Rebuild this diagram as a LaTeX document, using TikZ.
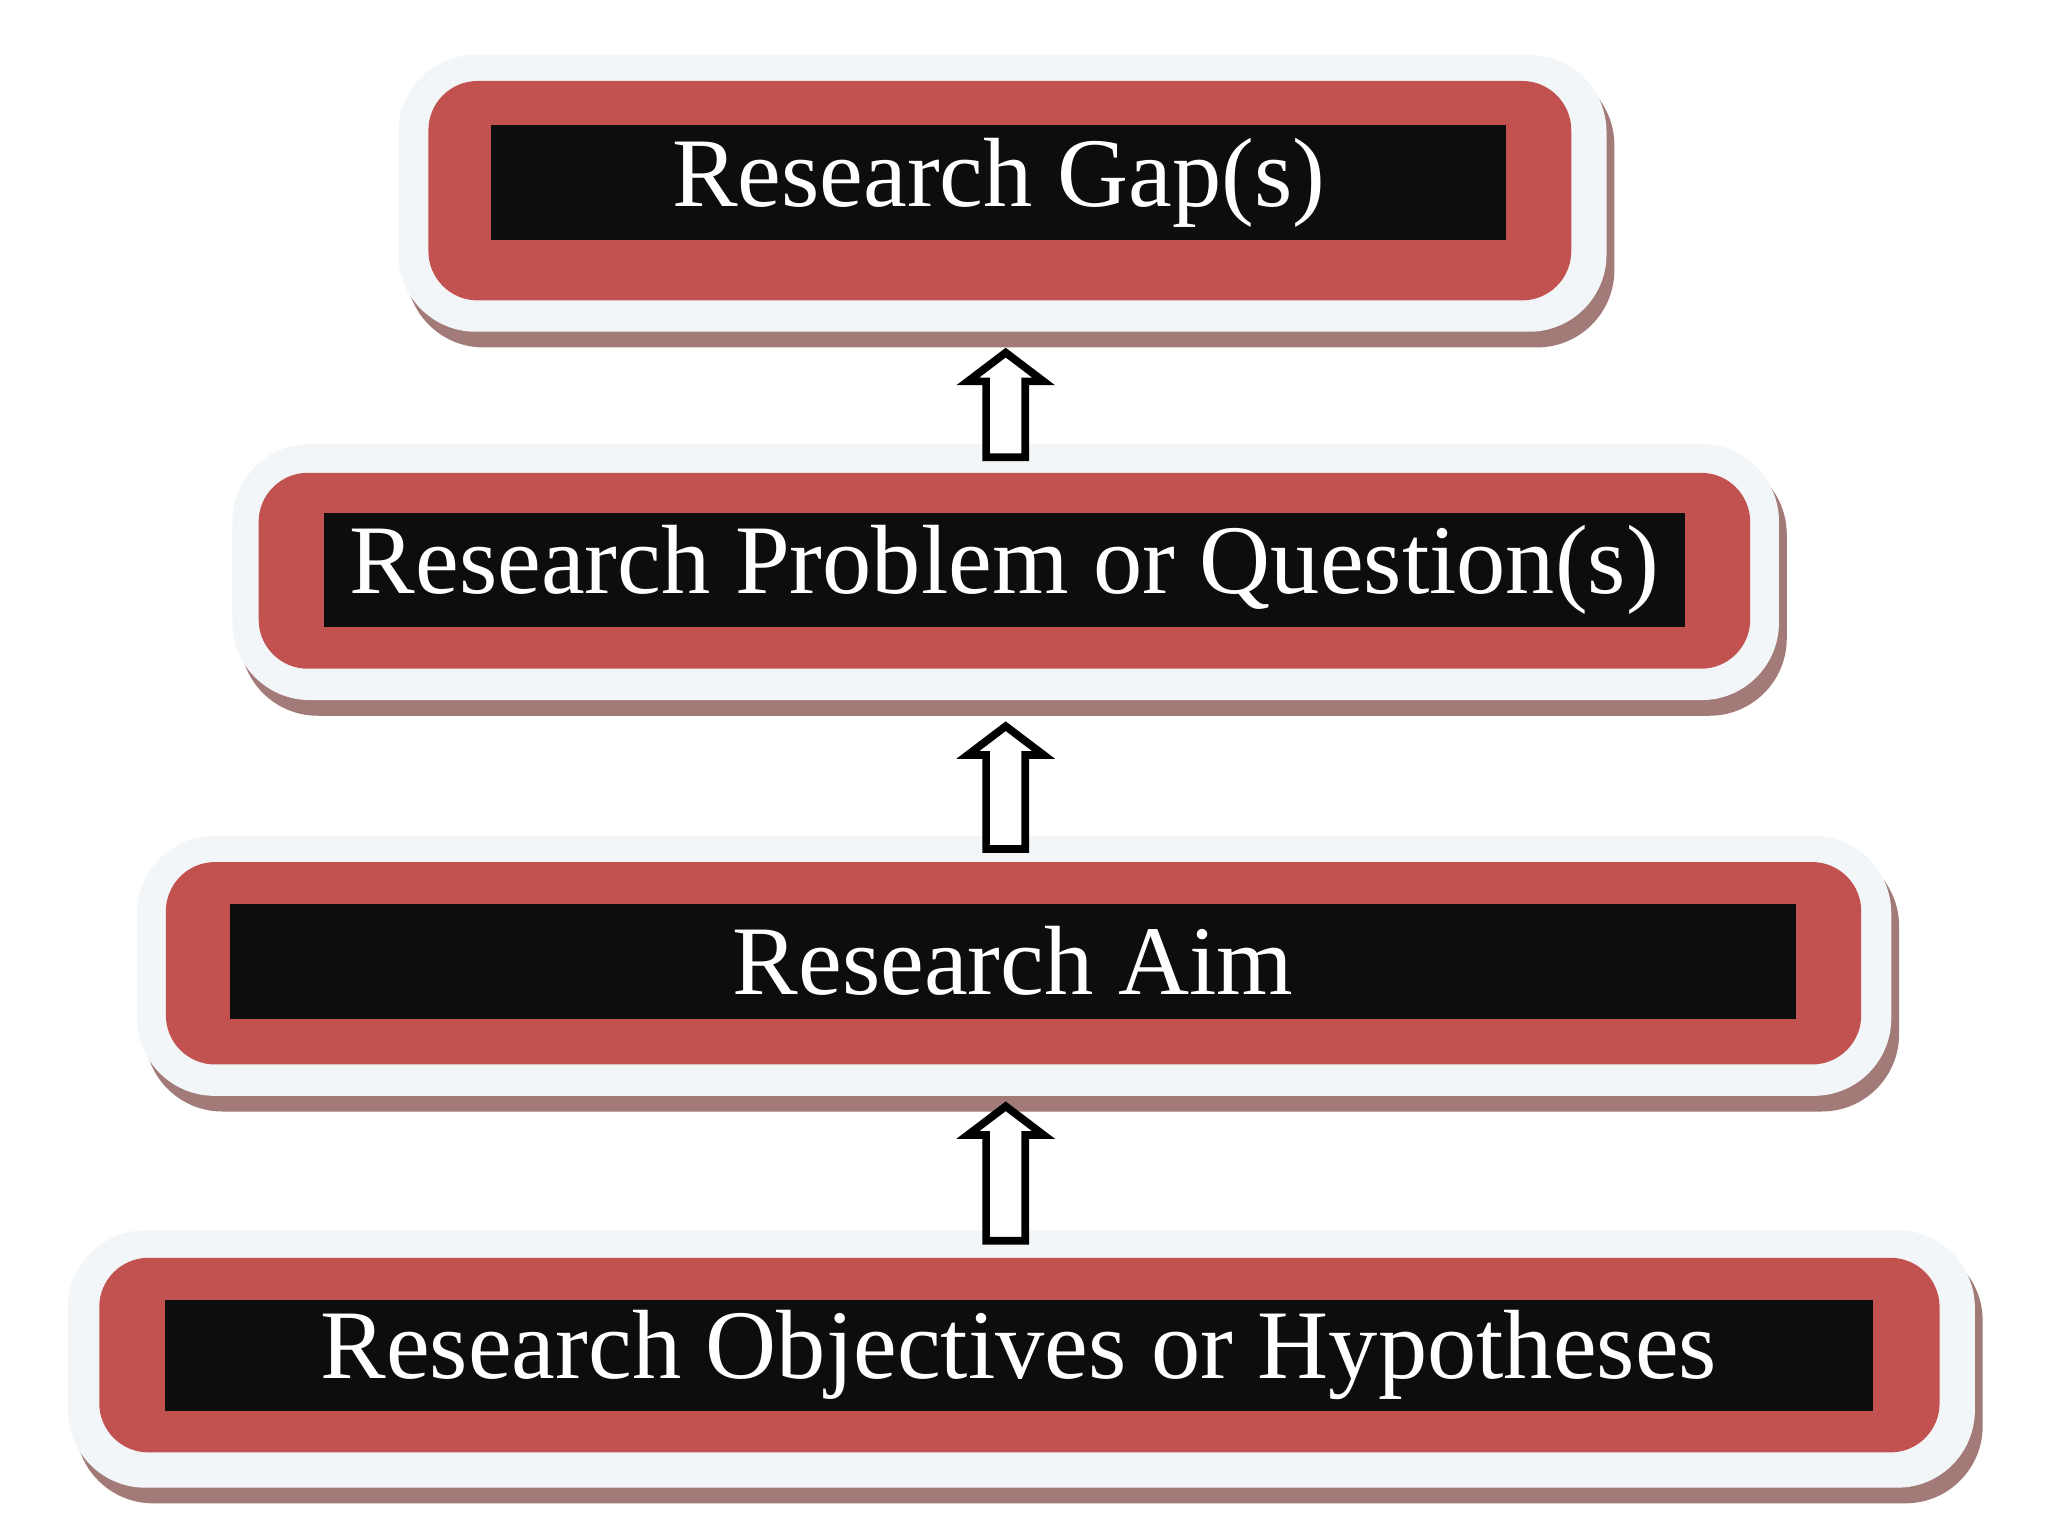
\documentclass[tikz,border=0pt]{standalone}
\usepackage{fontspec}
\setmainfont{Liberation Serif}
\definecolor{boxred}{HTML}{C25250}
\definecolor{shade}{HTML}{A27A78}
\definecolor{halo}{HTML}{F3F6F8}
\tikzset{
  halobox/.style={fill=halo, rounded corners=22},
  shadebox/.style={fill=shade, rounded corners=22},
  redbox/.style={fill=boxred, rounded corners=14},
  blackbox/.style={fill=black!95},
  lbl/.style={text=white, font=\fontsize{28}{32}\selectfont},
  uparrow/.style={draw=black, line width=2.2pt, fill=white, line join=miter}
}
\begin{document}
\begin{tikzpicture}[x=0.01306cm, y=-0.01306cm]
\useasboundingbox (0,0) rectangle (1568,1176);
\fill[white] (0,0) rectangle (1568,1176);
% boxes: halo x1,y1,x2,y2 ; red ; black ; text
\foreach \hx/\hy/\hX/\hY/\rx/\ry/\rX/\rY/\bx/\by/\bX/\bY/\name/\txt in {
 305/42/1230/258/328/62/1203/230/376/96/1153/184/gap/{Research Gap(s)},
 178/340/1362/540/198/362/1340/512/248/393/1290/480/prob/{Research Problem or Question(s)},
 105/640/1448/843/127/660/1425/815/176/692/1375/780/aim/{Research Aim},
 52/942/1512/1143/76/963/1485/1112/126/995/1434/1080/obj/{Research Objectives or Hypotheses}}
{
 \fill[shadebox] (\hx+6,\hy+10) rectangle (\hX+6,\hY+8);
 \fill[halobox] (\hx,\hy) rectangle (\hX,\hY-4);
 \fill[redbox] (\rx,\ry) rectangle (\rX,\rY);
 \fill[blackbox] (\bx,\by) rectangle (\bX,\bY);
 \node[lbl] (\name) at ({(\bx+\bX)/2},{(\by+\bY)/2}) {\txt};
}
% hollow up arrows
\foreach \t/\b in {270/350, 556/650, 847/950}{
 \draw[uparrow] (755,\b) -- (755,{\t+22}) -- (741,{\t+22}) -- (770,\t) -- (799,{\t+22}) -- (785,{\t+22}) -- (785,\b) -- cycle;
}
\end{tikzpicture}
\end{document}
